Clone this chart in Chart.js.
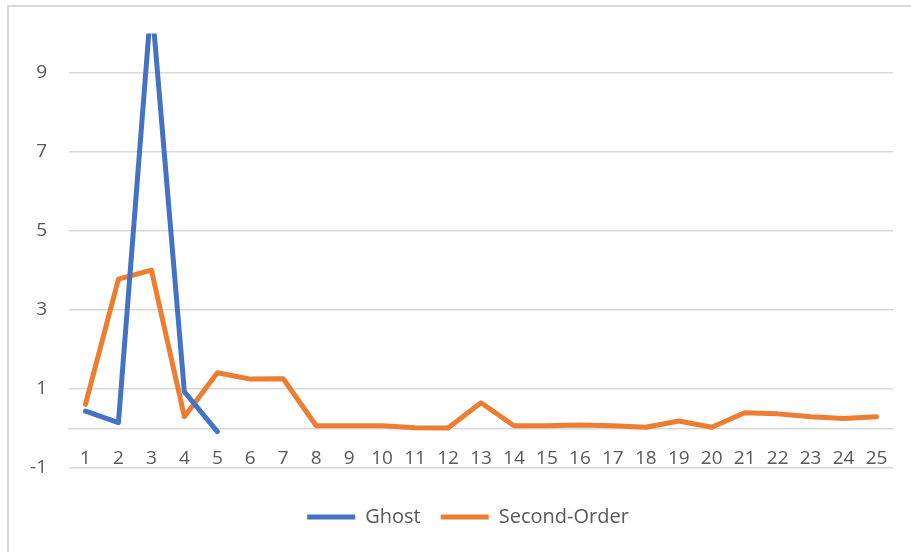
<!DOCTYPE html>
<html>
<head>
<meta charset="utf-8">
<script src="https://cdn.jsdelivr.net/npm/chart.js@4"></script>
<style>
  html, body { margin: 0; padding: 0; background: #fff; overflow: hidden; }
  #wrap { position: relative; width: 911px; height: 552px; }
  #frame { position: absolute; left: 7px; top: 5px; width: 2000px; height: 2000px; border: 2px solid #d9d9d9; }
  canvas { position: absolute; left: 0; top: 0; }
</style>
</head>
<body>
<div id="wrap">
  <div id="frame"></div>
  <canvas id="chart" width="911" height="552"></canvas>
</div>
<script>
const categories = ["1", "2", "3", "4", "5", "6", "7", "8", "9", "10", "11", "12", "13",
                    "14", "15", "16", "17", "18", "19", "20", "21", "22", "23", "24", "25"]
const ghost = [0.44, 0.15, 10.85, 0.93, -0.08]
const secondOrder = [0.61, 3.78, 4.01, 0.30, 1.41, 1.25, 1.26, 0.07, 0.07, 0.07, 0.02, 0.01, 0.65,
                     0.07, 0.07, 0.09, 0.07, 0.03, 0.19, 0.03, 0.40, 0.37, 0.30, 0.25, 0.30]
const yTicks = [-1, 1, 3, 5, 7, 9]

const blue = "#4472C4"
const orange = "#ED7D31"
const grey = "#d9d9d9"

Chart.defaults.font.family = "'Open Sans', sans-serif"
Chart.defaults.color = "#595959"

// legend sits a little right of the centre in the original
const nudgeLegend = {
    id: "nudgeLegend",
    afterLayout(chart) {
        chart.legend.left += 7
        chart.legend.right += 7
    }
}

const ctx = document.getElementById("chart").getContext("2d")

new Chart(ctx, {
    type: "line",
    data: {
        labels: categories,
        datasets: [
            {
                label: "Ghost",
                data: ghost,
                borderColor: blue,
                backgroundColor: blue,
                borderWidth: 5,
                pointRadius: 0,
                borderJoinStyle: "round",
                borderCapStyle: "round",
                clip: 0
            },
            {
                label: "Second-Order",
                data: secondOrder,
                borderColor: orange,
                backgroundColor: orange,
                borderWidth: 5,
                pointRadius: 0,
                borderJoinStyle: "round",
                borderCapStyle: "round",
                clip: 0
            }
        ]
    },
    options: {
        responsive: false,
        animation: false,
        devicePixelRatio: 1,
        layout: {
            padding: { left: 29, right: 18, top: 33, bottom: 15 }
        },
        scales: {
            x: {
                position: { y: 0 },
                offset: true,
                grid: { color: "rgba(0,0,0,0)", drawTicks: false },
                border: { color: grey, width: 1.5 },
                ticks: { font: { size: 19 }, padding: 19, maxRotation: 0, autoSkip: false }
            },
            y: {
                min: -1,
                max: 10,
                afterBuildTicks: (scale) => {
                    scale.ticks = yTicks.map(v => ({ value: v }))
                },
                afterFit: (scale) => {
                    scale.width = 40
                },
                grid: { color: grey, lineWidth: 1.5, drawTicks: false },
                border: { display: false },
                ticks: { font: { size: 19 }, padding: 22 }
            }
        },
        plugins: {
            legend: {
                position: "bottom",
                title: { display: true, text: "", padding: 0, font: { size: 20, lineHeight: "19px" } },
                labels: {
                    usePointStyle: true,
                    pointStyle: "line",
                    pointStyleWidth: 48,
                    padding: 20,
                    font: { size: 20 }
                }
            },
            tooltip: { enabled: false }
        }
    },
    plugins: [nudgeLegend]
})
</script>
</body>
</html>
